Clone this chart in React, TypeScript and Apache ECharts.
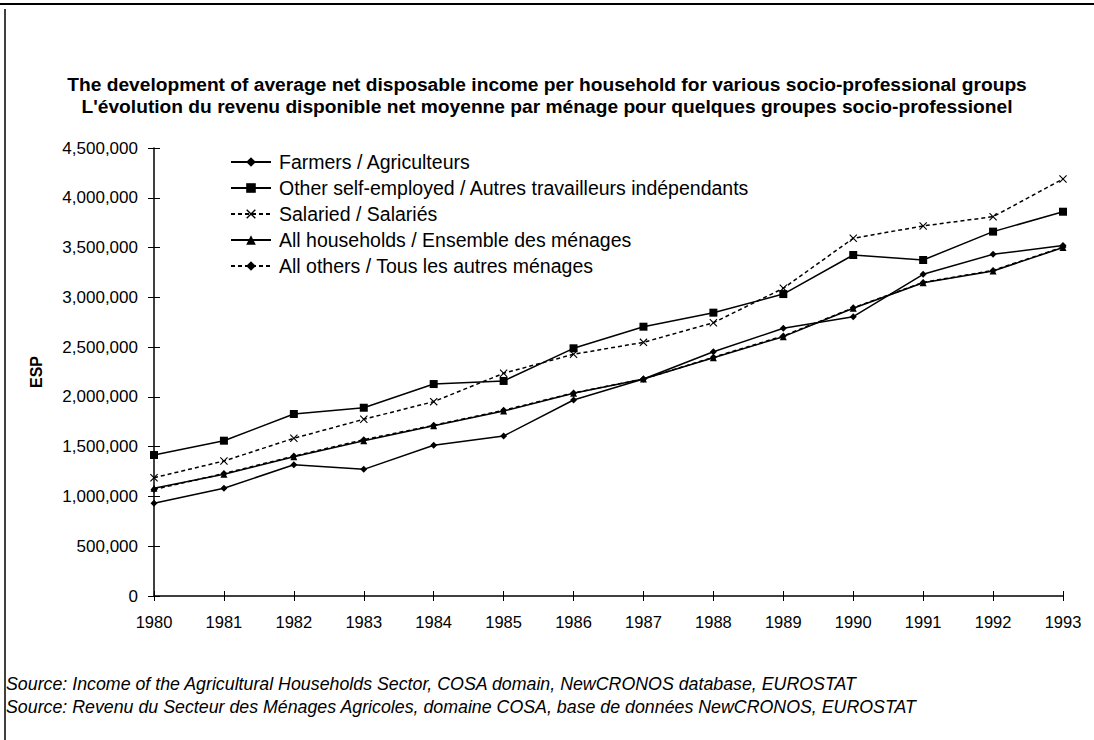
import React, { useEffect, useRef } from "react";
import * as echarts from "echarts";

const years = ["1980","1981","1982","1983","1984","1985","1986","1987","1988","1989","1990","1991","1992","1993"];
const farmers = [931000,1082000,1319000,1272000,1514000,1607000,1969000,2180000,2454000,2689000,2806000,3231000,3432000,3520000];
const otherSelfEmployed = [1416000,1560000,1828000,1891000,2129000,2160000,2488000,2705000,2846000,3033000,3425000,3375000,3660000,3860000];
const salaried = [1188000,1356000,1584000,1775000,1952000,2237000,2428000,2548000,2745000,3091000,3593000,3717000,3810000,4189000];
const allHouseholds = [1082000,1222000,1399000,1560000,1711000,1858000,2036000,2180000,2394000,2605000,2890000,3147000,3265000,3500000];
const allOthers = [1070000,1230000,1405000,1570000,1715000,1865000,2040000,2180000,2398000,2612000,2895000,3150000,3270000,3505000];

const seriesNames = [
  "Farmers / Agriculteurs",
  "Other self-employed / Autres travailleurs indépendants",
  "Salaried / Salariés",
  "All households / Ensemble des ménages",
  "All others / Tous les autres ménages",
];

const titleLines = [
  "The development of average net disposable income per household for various socio-professional groups",
  "L'évolution du revenu disponible net moyenne par ménage pour quelques groupes socio-professionel",
];
const sourceLines = [
  "Source: Income of the Agricultural Households Sector, COSA domain, NewCRONOS database, EUROSTAT",
  "Source: Revenu du Secteur des Ménages Agricoles, domaine COSA, base de données NewCRONOS, EUROSTAT",
];

const FONT = "'Liberation Sans', Arial, sans-serif";
const X_SYMBOL = "path://M0,1L1,0L5,4L9,0L10,1L6,5L10,9L9,10L5,6L1,10L0,9L4,5Z";

export default function App() {
  const ref = useRef<HTMLDivElement>(null);
  useEffect(() => {
    document.body.style.margin = "0";
    const chart = echarts.init(ref.current!, null, { renderer: "svg" });
    const mk = (name: string, data: number[], symbol: string, size: number, dashed: boolean, z: number) => ({
      name,
      type: "line",
      data,
      symbol,
      symbolSize: size,
      showSymbol: true,
      z,
      lineStyle: { color: "#000", width: 1.5, type: dashed ? [4, 3] : "solid" },
      itemStyle: { color: "#000", borderWidth: 0 },
    });
    const axisCommonX = {
      type: "category",
      data: years,
      boundaryGap: false,
    };
    chart.setOption({
      animation: false,
      backgroundColor: "#fff",
      textStyle: { fontFamily: FONT },
      title: {
        text: titleLines.join("\n"),
        left: "center",
        top: 73,
        padding: 0,
        textStyle: { fontFamily: FONT, fontSize: 19.2, fontWeight: "bold", color: "#000", lineHeight: 22 },
      },
      legend: {
        orient: "vertical",
        left: 230,
        top: 152,
        padding: 0,
        itemWidth: 40,
        itemHeight: 12,
        itemGap: 6,
        data: seriesNames,
        textStyle: { fontFamily: FONT, fontSize: 19.5, color: "#000", padding: [0, 0, 0, 3] },
        selectedMode: false,
      },
      grid: { left: 154, right: 31, top: 148, bottom: 144, containLabel: false },
      xAxis: [
        {
          ...axisCommonX,
          axisLine: { lineStyle: { color: "#000", width: 1.5 } },
          axisTick: { show: true, alignWithLabel: true, length: 5, lineStyle: { color: "#000" } },
          axisLabel: { fontFamily: FONT, fontSize: 16.5, color: "#000", margin: 17 },
          splitLine: { show: false },
        },
        {
          ...axisCommonX,
          position: "bottom",
          axisLine: { show: false },
          axisTick: { show: true, inside: true, length: 5, lineStyle: { color: "#000" } },
          axisLabel: { show: false },
          splitLine: { show: false },
        },
      ],
      yAxis: [
        {
          type: "value",
          min: 0,
          max: 4500000,
          interval: 500000,
          name: "ESP",
          nameLocation: "middle",
          nameGap: 110,
          nameTextStyle: { fontFamily: FONT, fontSize: 16, fontWeight: "bold", color: "#000" },
          axisLine: { show: true, lineStyle: { color: "#000", width: 1.5 } },
          axisTick: { show: true, length: 6, lineStyle: { color: "#000" } },
          axisLabel: {
            fontFamily: FONT,
            fontSize: 17,
            color: "#000",
            margin: 16,
            formatter: (v: number) => v.toLocaleString("en-US"),
          },
          splitLine: { show: false },
        },
        {
          type: "value",
          min: 0,
          max: 4500000,
          interval: 500000,
          position: "left",
          axisLine: { show: false },
          axisTick: { show: true, inside: true, length: 6, lineStyle: { color: "#000" } },
          axisLabel: { show: false },
          splitLine: { show: false },
        },
      ],
      series: [
        mk(seriesNames[0], farmers, "diamond", 7, false, 5),
        mk(seriesNames[1], otherSelfEmployed, "rect", 8, false, 4),
        mk(seriesNames[2], salaried, X_SYMBOL, 8, true, 3),
        mk(seriesNames[3], allHouseholds, "triangle", 7, false, 2),
        mk(seriesNames[4], allOthers, "diamond", 7, true, 1),
      ],
      graphic: [
        { type: "line", shape: { x1: 0, y1: 4, x2: 1094, y2: 4 }, style: { stroke: "#000", lineWidth: 2 } },
        { type: "line", shape: { x1: 5, y1: 9, x2: 5, y2: 740 }, style: { stroke: "#000", lineWidth: 1.5 } },
        {
          type: "text",
          left: 6,
          top: 675,
          style: { text: sourceLines[0], font: `italic 17.8px ${FONT}`, fill: "#000" },
        },
        {
          type: "text",
          left: 6,
          top: 698,
          style: { text: sourceLines[1], font: `italic 17.8px ${FONT}`, fill: "#000" },
        },
      ],
    });
    return () => chart.dispose();
  }, []);
  return <div ref={ref} style={{ position: "absolute", left: 0, top: 0, width: 1094, height: 740 }} />;
}
